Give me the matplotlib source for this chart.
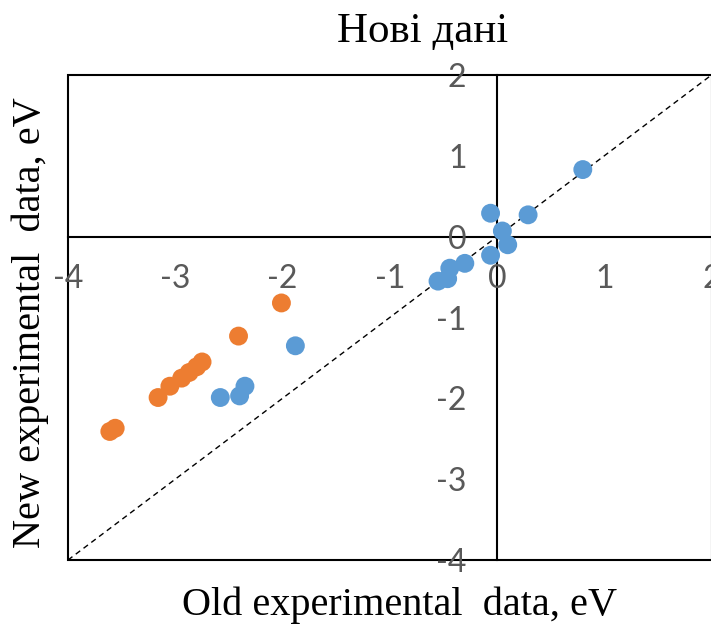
import matplotlib
matplotlib.use("Agg")
import matplotlib.pyplot as plt
from matplotlib.patches import Rectangle

# blue series (old vs new)
blue_x = [0.80, -0.06, 0.29, 0.05, 0.10, -0.06, -0.30, -0.44, -0.46, -0.55,
          -1.88, -2.35, -2.40, -2.58]
blue_y = [0.83, 0.29, 0.27, 0.07, -0.10, -0.23, -0.33, -0.39, -0.52, -0.55,
          -1.35, -1.85, -1.97, -1.99]
# orange series
orange_x = [-2.01, -2.41, -2.75, -2.80, -2.87, -2.94, -3.05, -3.16, -3.56, -3.61]
orange_y = [-0.82, -1.23, -1.55, -1.61, -1.68, -1.75, -1.85, -1.99, -2.37, -2.41]

ticks = [-4, -3, -2, -1, 0, 1, 2]
diag = [-4, 2]

fig = plt.figure(figsize=(7.11, 6.24), dpi=100)
ax = fig.add_axes([68 / 711, 64 / 624, 643.5 / 711, 485 / 624])

ax.plot(diag, diag, color="black", lw=1, ls=(0, (4, 3)), zorder=2)
ax.scatter(blue_x, blue_y, s=185, color="#5B9BD5", edgecolors="none", zorder=3)
ax.scatter(orange_x, orange_y, s=185, color="#ED7D31", edgecolors="none", zorder=3)

ax.set_xlim(-4, 2)
ax.set_ylim(-4, 2)
ax.set_xticks(ticks)
ax.set_yticks(ticks)
ax.set_xticklabels([str(t) for t in ticks])
ax.set_yticklabels([str(t) for t in ticks])

ax.spines["left"].set_position("zero")
ax.spines["bottom"].set_position("zero")
ax.spines["top"].set_visible(False)
ax.spines["right"].set_visible(False)
for s in ["left", "bottom"]:
    ax.spines[s].set_linewidth(1.5)
    ax.spines[s].set_zorder(1)

ax.tick_params(axis="x", length=0, pad=20, labelsize=23, labelcolor="#595959")
ax.tick_params(axis="y", length=0, pad=22, labelsize=23, labelcolor="#595959")
for lab in ax.get_xticklabels() + ax.get_yticklabels():
    lab.set_family("Lato")

ax.add_patch(Rectangle((0, 0), 1, 1, transform=ax.transAxes, fill=False,
                       edgecolor="black", lw=1.5, clip_on=False, zorder=1))

fig.text(423 / 711, 1 - 32 / 624, "Нові дані", family="Liberation Serif",
         fontsize=31, ha="center", va="center")
fig.text(400 / 711, 1 - 605 / 624, "Old experimental  data, eV",
         family="Liberation Serif", fontsize=29, ha="center", va="center")
fig.text(30 / 711, 1 - 323 / 624, "New experimental  data, eV",
         family="Liberation Serif", fontsize=29, ha="center", va="center",
         rotation=90)

fig.savefig("out.png", dpi=100)
